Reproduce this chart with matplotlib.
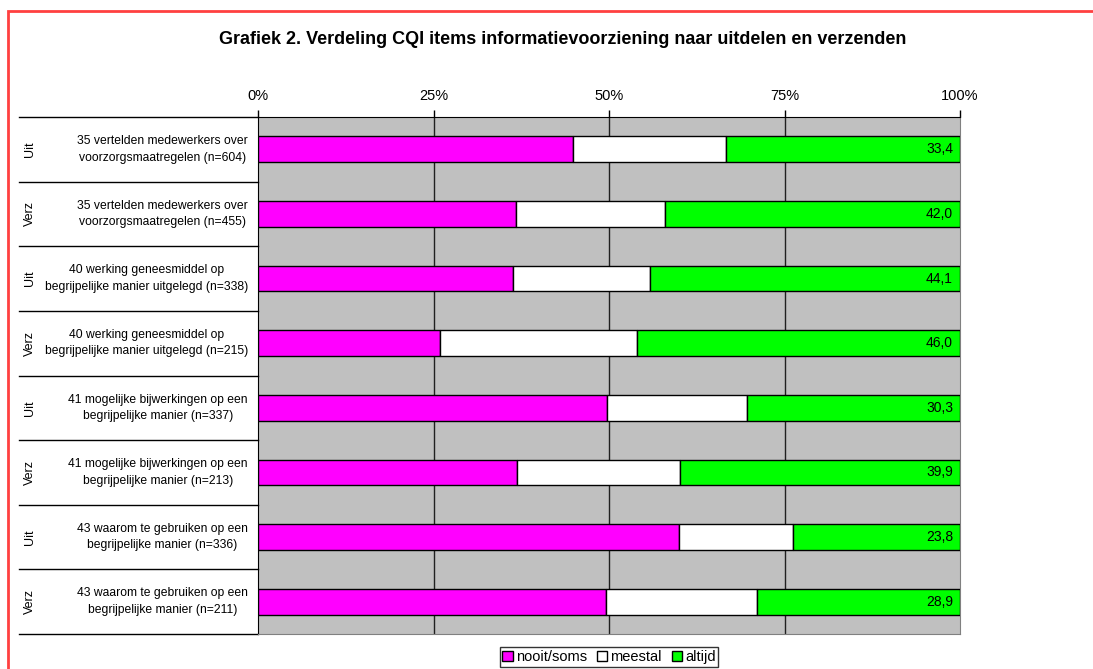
import numpy as np
import matplotlib.pyplot as plt
from matplotlib.patches import Rectangle

groups = ['Uit', 'Verz', 'Uit', 'Verz', 'Uit', 'Verz', 'Uit', 'Verz']
items = ['35 vertelden medewerkers over\nvoorzorgsmaatregelen (n=604)',
         '35 vertelden medewerkers over\nvoorzorgsmaatregelen (n=455)',
         '40 werking geneesmiddel op\nbegrijpelijke manier uitgelegd (n=338)',
         '40 werking geneesmiddel op\nbegrijpelijke manier uitgelegd (n=215)',
         '41 mogelijke bijwerkingen op een\nbegrijpelijke manier (n=337)',
         '41 mogelijke bijwerkingen op een\nbegrijpelijke manier (n=213)',
         '43 waarom te gebruiken op een\nbegrijpelijke manier (n=336)',
         '43 waarom te gebruiken op een\nbegrijpelijke manier (n=211)']
nooit = [44.9, 36.8, 36.3, 25.9, 49.7, 36.9, 60.0, 49.6]
meestal = [21.7, 21.2, 19.6, 28.1, 20.0, 23.2, 16.2, 21.5]
altijd = [33.4, 42.0, 44.1, 46.0, 30.3, 39.9, 23.8, 28.9]
ticks = [0, 25, 50, 75, 100]
tick_labels = ['0%', '25%', '50%', '75%', '100%']

plt.rcParams['font.family'] = ['Liberation Sans', 'DejaVu Sans']

W, H = 1093, 669
fig = plt.figure(figsize=(W / 100, H / 100), dpi=100)
ax = fig.add_axes([258 / W, (H - 634) / H, 702 / W, 517 / H])
ax.set_facecolor('#C0C0C0')

y = np.arange(len(items))
left2 = np.array(nooit) + np.array(meestal)
ax.barh(y, nooit, height=0.4, color='#FF00FF', edgecolor='black', lw=1, label='nooit/soms', zorder=3)
ax.barh(y, meestal, left=nooit, height=0.4, color='white', edgecolor='black', lw=1, label='meestal', zorder=3)
ax.barh(y, altijd, left=left2, height=0.4, color='#00FF00', edgecolor='black', lw=1, label='altijd', zorder=3)

for i, v in enumerate(altijd):
    ax.text(99, i, ('%.1f' % v).replace('.', ','), ha='right', va='center', fontsize=10, zorder=4)

ax.set_xlim(0, 100)
ax.set_ylim(len(items) - 0.5, -0.5)
for g in [25, 50, 75]:
    ax.axvline(g, color='#202020', lw=1, zorder=1)

ax.xaxis.tick_top()
ax.set_xticks(ticks, tick_labels, fontsize=10.5)
ax.tick_params(axis='x', length=5, width=1, pad=5)
ax.set_yticks([])
ax.spines['top'].set_color('black')
ax.spines['left'].set_color('black')
ax.spines['right'].set_color('#808080')
ax.spines['bottom'].set_color('#808080')

tr = ax.get_yaxis_transform()
x_txt = (248 - 258) / 702
x_grp = (30 - 258) / 702
x_sep = (19 - 258) / 702
for i in range(len(items)):
    ax.text(x_txt, i, items[i], transform=tr, ha='right', va='center', multialignment='center',
            fontsize=8.7, linespacing=1.5, clip_on=False)
    ax.text(x_grp, i, groups[i], transform=tr, ha='center', va='center', fontsize=9,
            rotation=90, clip_on=False)
for i in range(len(items) + 1):
    ax.plot([x_sep, 0], [i - 0.5, i - 0.5], transform=tr, color='black', lw=1, clip_on=False)

fig.text(563 / W, (H - 40) / H, 'Grafiek 2. Verdeling CQI items informatievoorziening naar uitdelen en verzenden',
         ha='center', va='center', fontsize=13, fontweight='bold')

leg = fig.legend(loc='center', bbox_to_anchor=(609 / W, (H - 657) / H), ncol=3, fontsize=10.5,
                 frameon=True, fancybox=False, edgecolor='black', handlelength=0.7, handleheight=0.7,
                 handletextpad=0.2, columnspacing=0.7, borderpad=0.2, borderaxespad=0)
leg.get_frame().set_linewidth(1)

fig.add_artist(Rectangle((7.5 / W, -0.1), 1.2, (H - 10.5) / H + 0.1, transform=fig.transFigure,
                         fill=False, edgecolor='#FF4040', lw=2))

plt.savefig('out.png', dpi=100)
